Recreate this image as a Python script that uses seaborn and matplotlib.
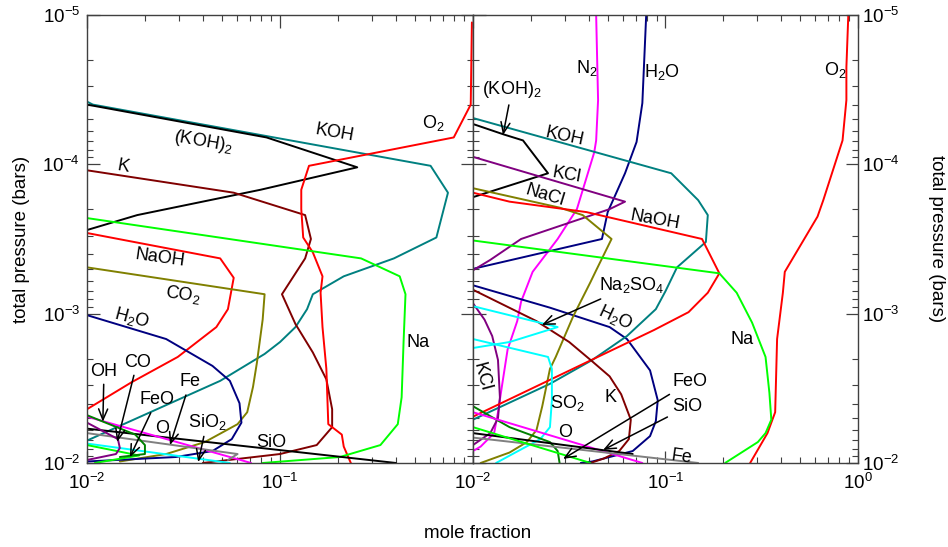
import numpy as np
import pandas as pd
import matplotlib
matplotlib.use("Agg")
import matplotlib.pyplot as plt
import seaborn as sns
from matplotlib.ticker import NullFormatter

# values, stored as log10(mole fraction) / log10(pressure in bars)
# ---- left panel ----
koh_l_lx = [-2.00, -1.97, -0.22, -0.13, -0.19, -0.41, -0.67, -0.83, -0.86, -0.92, -1.00, -1.08, -1.31, -2.00]
koh_l_lp = [-4.42, -4.40, -3.99, -3.81, -3.51, -3.37, -3.25, -3.13, -3.03, -2.91, -2.81, -2.73, -2.55, -2.15]
koh2_l_lx = [-2.00, -1.07, -0.60, -1.10, -1.74, -2.00]
koh2_l_lp = [-4.40, -4.18, -3.98, -3.83, -3.66, -3.56]
k_l_lx = [-2.00, -1.24, -0.87, -0.84, -0.87, -0.99, -0.92, -0.83, -0.76, -0.73, -0.73, -0.81, -1.00, -1.40]
k_l_lp = [-3.96, -3.81, -3.66, -3.50, -3.37, -3.13, -2.93, -2.74, -2.56, -2.36, -2.24, -2.12, -2.06, -2.00]
o2_l_lx = [-0.006, -0.012, -0.10, -0.85, -0.89, -0.89, -0.88, -0.83, -0.78, -0.79, -0.78, -0.76, -0.75, -0.68, -0.67, -0.63]
o2_l_lp = [-4.95, -4.40, -4.18, -3.99, -3.83, -3.70, -3.51, -3.41, -3.25, -3.14, -2.91, -2.63, -2.26, -2.19, -2.11, -1.99]
na_l_lx = [-2.00, -0.58, -0.38, -0.35, -0.36, -0.37, -0.39, -0.48, -0.69, -1.09]
na_l_lp = [-3.64, -3.37, -3.25, -3.13, -2.81, -2.44, -2.26, -2.12, -2.04, -2.00]
naoh_l_lx = [-2.00, -1.31, -1.24, -1.27, -1.33, -1.53, -1.77, -2.00]
naoh_l_lp = [-3.54, -3.37, -3.24, -3.03, -2.91, -2.71, -2.54, -2.36]
co2_l_lx = [-2.00, -1.08, -1.09, -1.12, -1.14, -1.17, -1.22, -1.39, -1.59, -1.83]
co2_l_lp = [-3.31, -3.13, -2.96, -2.67, -2.51, -2.34, -2.26, -2.14, -2.06, -2.01]
h2o_l_lx = [-2.00, -1.59, -1.35, -1.26, -1.21, -1.20, -1.25, -1.35, -1.54, -2.00]
h2o_l_lp = [-2.99, -2.83, -2.65, -2.55, -2.40, -2.27, -2.16, -2.08, -2.04, -2.01]
sio_l_lx = [-2.00, -0.40]
sio_l_lp = [-2.23, -2.00]
o_l_lx = [-2.00, -1.15]
o_l_lp = [-2.31, -2.00]
fe_l_lx = [-2.00, -1.22, -1.27]
fe_l_lp = [-2.20, -2.06, -2.02]
sio2_l_lx = [-2.00, -1.26]
sio2_l_lp = [-2.13, -2.00]
feo_l_lx = [-2.00, -1.73, -1.96]
feo_l_lp = [-2.12, -2.05, -2.00]
oh_l_lx = [-2.00, -1.75, -1.70, -1.70, -1.83]
oh_l_lp = [-2.32, -2.19, -2.12, -2.06, -2.04]
co_l_lx = [-2.00, -1.84, -1.83, -1.85, -2.00]
co_l_lp = [-2.27, -2.16, -2.10, -2.06, -2.02]

# ---- right panel ----
o2_r_lx = [-0.05, -0.06, -0.06, -0.08, -0.18, -0.21, -0.38, -0.39, -0.42, -0.43, -0.47, -0.56]
o2_r_lp = [-5.00, -4.65, -4.43, -4.16, -3.76, -3.65, -3.28, -3.14, -2.83, -2.34, -2.20, -2.00]
n2_r_lx = [-1.36, -1.35, -1.36, -1.37, -1.46, -1.56, -1.69, -1.75, -1.77, -1.82, -1.85, -1.87, -1.89, -1.96, -2.00]
n2_r_lp = [-5.00, -4.43, -4.16, -4.08, -3.70, -3.50, -3.28, -3.08, -2.95, -2.76, -2.51, -2.34, -2.20, -2.11, -2.08]
h2o_r_top_lx = [-1.10, -1.12, -1.15, -1.21, -1.30, -1.33, -2.00]
h2o_r_top_lp = [-5.00, -4.41, -4.15, -3.94, -3.68, -3.50, -3.30]
h2o_r_bot_lx = [-2.00, -1.60, -1.29, -1.20, -1.08, -1.04, -1.05, -1.08, -1.17, -1.38, -1.44]
h2o_r_bot_lp = [-3.19, -3.04, -2.91, -2.83, -2.62, -2.42, -2.28, -2.18, -2.08, -2.01, -2.00]
koh_r_lx = [-2.00, -0.97, -0.83, -0.78, -0.79, -0.94, -1.00, -1.05, -1.20, -1.38, -1.60, -2.00]
koh_r_lp = [-4.31, -3.94, -3.76, -3.66, -3.48, -3.31, -3.15, -3.03, -2.85, -2.69, -2.53, -2.29]
koh2_r_lx = [-2.00, -1.84, -1.74, -1.61, -2.00]
koh2_r_lp = [-4.27, -4.20, -4.16, -3.94, -3.78]
kcl_r_top_lx = [-2.00, -1.21, -1.29, -1.75, -1.91, -2.00]
kcl_r_top_lp = [-4.05, -3.75, -3.70, -3.50, -3.36, -3.29]
kcl_r_bot_lx = [-2.00, -1.94, -1.90, -1.87, -1.86, -1.87, -1.91, -2.00]
kcl_r_bot_lp = [-3.07, -2.96, -2.85, -2.69, -2.44, -2.30, -2.20, -2.12]
nacl_r_lx = [-2.00, -1.55, -1.43, -1.28, -1.36, -1.39, -1.48, -1.53, -1.57, -1.60, -1.64, -1.67, -1.72, -1.81, -1.96]
nacl_r_lp = [-3.84, -3.71, -3.66, -3.50, -3.29, -3.21, -2.98, -2.83, -2.71, -2.63, -2.38, -2.22, -2.14, -2.07, -2.00]
naoh_r_lx = [-2.00, -1.81, -1.41, -0.81, -0.72, -0.78, -0.88, -1.06, -2.00]
naoh_r_lp = [-3.81, -3.75, -3.68, -3.50, -3.27, -3.14, -3.01, -2.89, -2.31]
na_r_lx = [-2.00, -0.72, -0.63, -0.55, -0.48, -0.46, -0.45, -0.48, -0.52, -0.69]
na_r_lp = [-3.49, -3.27, -3.14, -2.94, -2.71, -2.47, -2.29, -2.20, -2.14, -2.00]
k_r_lx = [-2.00, -1.67, -1.50, -1.38, -1.29, -1.23, -1.18, -1.19, -1.24, -1.32, -1.39]
k_r_lp = [-3.16, -2.95, -2.81, -2.68, -2.58, -2.46, -2.29, -2.16, -2.08, -2.03, -2.00]
so2_r_lx = [-2.00, -1.61, -1.59, -1.59, -1.60, -1.65, -1.78, -1.88]
so2_r_lp = [-2.83, -2.71, -2.63, -2.42, -2.24, -2.16, -2.07, -2.00]
na2so4_r_lx = [-2.00, -1.56, -1.81, -2.00]
na2so4_r_lp = [-3.05, -2.91, -2.81, -2.77]
oh_r_lx = [-2.00, -1.81, -1.60, -1.56, -1.55]
oh_r_lp = [-2.38, -2.24, -2.14, -2.08, -2.00]
o_r_lx = [-2.00, -1.12]
o_r_lp = [-2.34, -2.00]
sio_r_lx = [-2.00, -1.17]
sio_r_lp = [-2.20, -2.06]
fe_r_lx = [-2.00, -0.83]
fe_r_lp = [-2.17, -2.00]
feo_r_lx = [-2.00, -1.39]
feo_r_lp = [-2.24, -2.00]

RED, TEAL, DRED, LIME = "#ff0000", "#008080", "#800000", "#00ff00"
OLIVE, NAVY, MAG, PURP = "#808000", "#000080", "#ff00ff", "#800080"
CYAN, GREY, DGREEN, BLK = "#00ffff", "#808080", "#008000", "#000000"

sns.set_theme(style="ticks")
plt.rcParams["font.family"] = ["Liberation Sans", "DejaVu Sans"]
plt.rcParams["mathtext.fontset"] = "custom"
plt.rcParams["mathtext.rm"] = "Liberation Sans"
plt.rcParams["mathtext.it"] = "Liberation Sans:italic"
plt.rcParams["text.color"] = "black"

fig = plt.figure(figsize=(9.48, 5.47), dpi=100)
ax1 = fig.add_axes([0.0918, 0.1536, 0.4072, 0.8190])
ax2 = fig.add_axes([0.4989, 0.1536, 0.4061, 0.8190])


def draw(ax, lx, lp, color):
    d = pd.DataFrame({"x": np.power(10.0, lx), "p": np.power(10.0, lp)})
    sns.lineplot(data=d, x="x", y="p", ax=ax, color=color, lw=1.4,
                 sort=False, estimator=None, legend=False)


for ax in (ax1, ax2):
    ax.set_xscale("log")
    ax.set_yscale("log")

left_curves = [
    (koh_l_lx, koh_l_lp, TEAL), (koh2_l_lx, koh2_l_lp, BLK), (k_l_lx, k_l_lp, DRED),
    (o2_l_lx, o2_l_lp, RED), (na_l_lx, na_l_lp, LIME), (naoh_l_lx, naoh_l_lp, RED),
    (co2_l_lx, co2_l_lp, OLIVE), (h2o_l_lx, h2o_l_lp, NAVY), (sio_l_lx, sio_l_lp, BLK),
    (o_l_lx, o_l_lp, MAG), (fe_l_lx, fe_l_lp, GREY), (sio2_l_lx, sio2_l_lp, CYAN),
    (feo_l_lx, feo_l_lp, LIME), (oh_l_lx, oh_l_lp, DGREEN), (co_l_lx, co_l_lp, PURP),
]
right_curves = [
    (o2_r_lx, o2_r_lp, RED), (n2_r_lx, n2_r_lp, MAG), (h2o_r_top_lx, h2o_r_top_lp, NAVY),
    (h2o_r_bot_lx, h2o_r_bot_lp, NAVY), (koh_r_lx, koh_r_lp, TEAL), (koh2_r_lx, koh2_r_lp, BLK),
    (kcl_r_top_lx, kcl_r_top_lp, PURP), (kcl_r_bot_lx, kcl_r_bot_lp, PURP),
    (nacl_r_lx, nacl_r_lp, OLIVE), (naoh_r_lx, naoh_r_lp, RED), (na_r_lx, na_r_lp, LIME),
    (k_r_lx, k_r_lp, DRED), (so2_r_lx, so2_r_lp, CYAN), (na2so4_r_lx, na2so4_r_lp, CYAN),
    (oh_r_lx, oh_r_lp, DGREEN), (o_r_lx, o_r_lp, MAG), (sio_r_lx, sio_r_lp, BLK),
    (fe_r_lx, fe_r_lp, GREY), (feo_r_lx, feo_r_lp, LIME),
]
for lx, lp, c in left_curves:
    draw(ax1, lx, lp, c)
for lx, lp, c in right_curves:
    draw(ax2, lx, lp, c)

ylabs = ["$10^{-2}$", "$10^{-3}$", "$10^{-4}$", "$10^{-5}$"]
for ax in (ax1, ax2):
    ax.set_xlim(1e-2, 1)
    ax.set_ylim(1e-2, 1e-5)
    ax.set_xlabel("")
    ax.set_ylabel("")
    ax.xaxis.set_minor_formatter(NullFormatter())
    ax.yaxis.set_minor_formatter(NullFormatter())
    ax.tick_params(which="both", direction="in", top=True, bottom=True, left=True, right=True,
                   color="#404040", labelsize=13.5, labelcolor="black")
    ax.tick_params(which="major", length=9, width=0.9)
    ax.tick_params(which="minor", length=4.5, width=0.8)
    ax.tick_params(axis="x", pad=7)
    for s in ax.spines.values():
        s.set_color("#404040")
        s.set_linewidth(1.0)

ax1.set_xticks([1e-2, 1e-1, 1], ["$10^{-2}$", "$10^{-1}$", ""])
ax2.set_xticks([1e-2, 1e-1, 1], ["$10^{-2}$", "$10^{-1}$", "$10^{0}$"])
ax1.set_yticks([1e-2, 1e-3, 1e-4, 1e-5], ylabs)
ax2.set_yticks([1e-2, 1e-3, 1e-4, 1e-5], ylabs)
ax1.tick_params(axis="y", pad=5)
ax2.tick_params(axis="y", labelleft=False, labelright=True, pad=3)

fs = 13
arrow = dict(arrowstyle="->,head_length=0.6,head_width=0.25", color="black", lw=1.1,
             shrinkA=1, shrinkB=0)


def lab(ax, text, fx, fy, rot=0):
    ax.text(fx, fy, text, transform=ax.transAxes, fontsize=fs, ha="center", va="center",
            rotation=rot, rotation_mode="anchor", color="black")


def arr(ax, text, fx, fy, tx, ty):
    ax.annotate(text, xy=(tx, ty), xycoords="axes fraction", xytext=(fx, fy),
                textcoords="axes fraction", fontsize=fs, ha="center", va="center",
                color="black", arrowprops=arrow)


# left panel labels
lab(ax1, "(KOH)$_2$", 0.301, 0.717, -10)
lab(ax1, "KOH", 0.642, 0.737, -10)
lab(ax1, "O$_2$", 0.896, 0.759)
lab(ax1, "K", 0.093, 0.661, -10)
lab(ax1, "NaOH", 0.189, 0.458, -8)
lab(ax1, "CO$_2$", 0.249, 0.375, -8)
lab(ax1, "H$_2$O", 0.117, 0.324, -15)
lab(ax1, "Na", 0.858, 0.268)
lab(ax1, "O", 0.194, 0.076)
lab(ax1, "SiO", 0.477, 0.045)
arr(ax1, "OH", 0.044, 0.205, 0.041, 0.092)
arr(ax1, "CO", 0.130, 0.225, 0.078, 0.047)
arr(ax1, "FeO", 0.181, 0.141, 0.111, 0.013)
arr(ax1, "Fe", 0.267, 0.181, 0.215, 0.040)
arr(ax1, "SiO$_2$", 0.311, 0.092, 0.288, 0.002)

# right panel labels
arr(ax2, "(KOH)$_2$", 0.101, 0.833, 0.078, 0.732)
lab(ax2, "N$_2$", 0.296, 0.882)
lab(ax2, "H$_2$O", 0.491, 0.873)
lab(ax2, "O$_2$", 0.940, 0.877)
lab(ax2, "KOH", 0.239, 0.728, -12)
lab(ax2, "KCl", 0.244, 0.643, -10)
lab(ax2, "NaCl", 0.187, 0.598, -17)
lab(ax2, "NaOH", 0.473, 0.542, -10)
arr(ax2, "Na$_2$SO$_4$", 0.413, 0.397, 0.179, 0.308)
lab(ax2, "H$_2$O", 0.369, 0.324, -25)
lab(ax2, "Na", 0.699, 0.275)
lab(ax2, "KCl", 0.023, 0.192, -75)
lab(ax2, "K", 0.356, 0.147)
lab(ax2, "SO$_2$", 0.244, 0.134)
lab(ax2, "O", 0.239, 0.069)
arr(ax2, "FeO", 0.564, 0.181, 0.234, 0.009)
arr(ax2, "SiO", 0.556, 0.125, 0.338, 0.029)
lab(ax2, "Fe", 0.543, 0.013, -8)

fig.text(0.504, 0.024, "mole fraction", fontsize=13.5, ha="center", va="center", color="black")
fig.text(0.023, 0.563, "total pressure (bars)", fontsize=13.5, ha="center", va="center",
         rotation=90, color="black")
fig.text(0.988, 0.563, "total pressure (bars)", fontsize=13.5, ha="center", va="center",
         rotation=270, color="black")

fig.savefig("out.png", dpi=100)
